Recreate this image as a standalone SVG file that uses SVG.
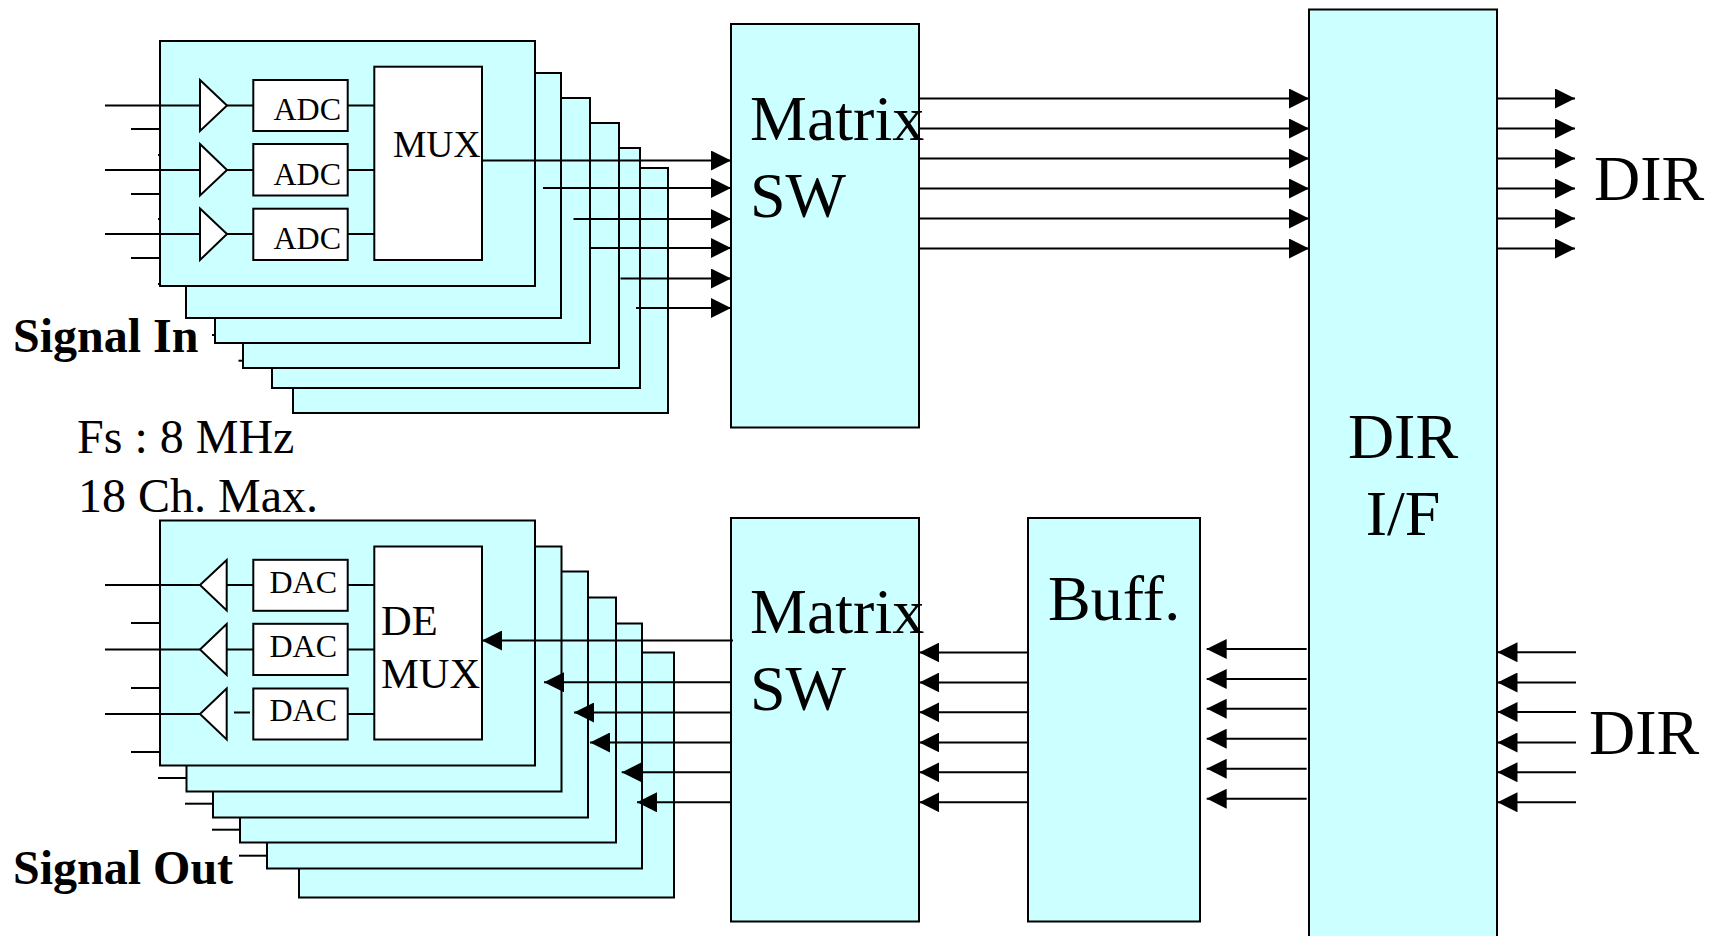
<svg xmlns="http://www.w3.org/2000/svg" width="1718" height="936" viewBox="0 0 1718 936">
<style>
.b{fill:#ccffff;stroke:#000;stroke-width:2}
.w{fill:#fff;stroke:#000;stroke-width:2}
.c line{stroke:#000;stroke-width:2;fill:none}
text{font-family:"Liberation Serif","Times New Roman",serif;fill:#000}
.s{font-size:32px}.m{font-size:37.500px}.d{font-size:42.500px}.l{font-size:64px}.t{font-size:48px}.h{font-size:48px;font-weight:bold}
</style>
<defs>
<marker id="a" markerUnits="userSpaceOnUse" markerWidth="20" markerHeight="20" refX="20" refY="10" orient="auto"><path d="M0 0L20 10L0 20Z" fill="#000"/></marker>
</defs>
<rect width="1718" height="936" fill="#fff"/>
<g id="in-cards">
<rect class="b" x="293" y="168" width="375" height="245"/>
<rect class="b" x="272" y="148" width="368" height="240"/>
<rect class="b" x="243" y="123" width="376" height="245"/>
<rect class="b" x="215" y="98" width="375" height="245"/>
<rect class="b" x="186" y="73" width="375" height="245"/>
<rect class="b" x="160" y="41" width="375" height="245"/>
</g>
<g id="out-cards">
<rect class="b" x="299" y="652.500" width="375" height="245"/>
<rect class="b" x="267" y="623.500" width="375" height="245"/>
<rect class="b" x="240" y="597.500" width="376" height="245"/>
<rect class="b" x="213" y="571.500" width="375" height="246"/>
<rect class="b" x="186.500" y="546.500" width="375" height="245"/>
<rect class="b" x="160" y="520.500" width="375" height="245"/>
</g>
<g id="amp-in-1"><path class="w" d="M200 80L227 105.500L200 131Z"/></g>
<g id="amp-in-2"><path class="w" d="M200 144L227 170L200 195.500Z"/></g>
<g id="amp-in-3"><path class="w" d="M200 208.500L227 234L200 260Z"/></g>
<g id="adc-1"><rect class="w" x="253.300" y="80" width="94.400" height="51"/><text class="s" x="273.500" y="120">ADC</text></g>
<g id="adc-2"><rect class="w" x="253.300" y="144" width="94.400" height="51.500"/><text class="s" x="273.500" y="185">ADC</text></g>
<g id="adc-3"><rect class="w" x="253.300" y="208.700" width="94.400" height="51.300"/><text class="s" x="273.500" y="249">ADC</text></g>
<g id="mux"><rect class="w" x="374.300" y="66.700" width="107.700" height="193.300"/><text class="m" x="393" y="156.700">MUX</text></g>
<g id="amp-out-1"><path class="w" d="M226.700 560L200 585L226.700 610.500Z"/></g>
<g id="amp-out-2"><path class="w" d="M226.700 624L200 649.500L226.700 675Z"/></g>
<g id="amp-out-3"><path class="w" d="M226.700 688.500L200 714L226.700 739.500Z"/></g>
<g id="dac-1"><rect class="w" x="253.300" y="559.800" width="94.400" height="51"/><text class="s" x="269.500" y="593">DAC</text></g>
<g id="dac-2"><rect class="w" x="253.300" y="623.800" width="94.400" height="51.200"/><text class="s" x="269.500" y="657.200">DAC</text></g>
<g id="dac-3"><rect class="w" x="253.300" y="688.500" width="94.400" height="51"/><text class="s" x="269.500" y="721.200">DAC</text></g>
<g id="demux"><rect class="w" x="374.300" y="546.500" width="107.700" height="193"/><text class="d" x="381" y="635">DE</text><text class="d" x="381" y="688">MUX</text></g>
<g id="matrix-top"><rect class="b" x="731" y="24" width="188" height="403.500"/><text class="l" x="750" y="140">Matrix</text><text class="l" x="750" y="217">SW</text></g>
<g id="matrix-bottom"><rect class="b" x="731" y="518" width="188" height="403.500"/><text class="l" x="750" y="633">Matrix</text><text class="l" x="750" y="710">SW</text></g>
<g id="buff"><rect class="b" x="1028" y="518" width="172" height="403.500"/><text class="l" x="1048" y="620">Buff.</text></g>
<g id="dir-if"><rect class="b" x="1309" y="9.500" width="188" height="960"/><text class="l" x="1403" y="458" text-anchor="middle">DIR</text><text class="l" x="1403" y="535" text-anchor="middle">I/F</text></g>
<g id="connectors" class="c">
<line x1="105" y1="105.500" x2="200" y2="105.500"/><line x1="105" y1="170" x2="200" y2="170"/><line x1="105" y1="234" x2="200" y2="234"/>
<line x1="131" y1="129" x2="160" y2="129"/><line x1="131" y1="194" x2="160" y2="194"/><line x1="131" y1="258" x2="160" y2="258"/>
<line x1="158" y1="155" x2="160" y2="155"/><line x1="158" y1="219" x2="160" y2="219"/><line x1="158" y1="284" x2="160" y2="284"/>
<line x1="212" y1="335" x2="215" y2="335"/><line x1="238.500" y1="360.700" x2="243" y2="360.700"/>
<line x1="227" y1="105.500" x2="253" y2="105.500"/><line x1="227" y1="170" x2="253" y2="170"/><line x1="227" y1="234" x2="253" y2="234"/>
<line x1="347.500" y1="105.500" x2="374" y2="105.500"/><line x1="347.500" y1="170" x2="374" y2="170"/><line x1="347.500" y1="234" x2="374" y2="234"/>
<line x1="482" y1="160.500" x2="731" y2="160.500" marker-end="url(#a)"/><line x1="543" y1="188" x2="731" y2="188" marker-end="url(#a)"/><line x1="573.500" y1="219" x2="731" y2="219" marker-end="url(#a)"/><line x1="589" y1="248" x2="731" y2="248" marker-end="url(#a)"/><line x1="620.500" y1="278.500" x2="731" y2="278.500" marker-end="url(#a)"/><line x1="636" y1="308" x2="731" y2="308" marker-end="url(#a)"/>
<line x1="919" y1="98.500" x2="1309" y2="98.500" marker-end="url(#a)"/><line x1="919" y1="128.500" x2="1309" y2="128.500" marker-end="url(#a)"/><line x1="919" y1="158.500" x2="1309" y2="158.500" marker-end="url(#a)"/><line x1="919" y1="188.500" x2="1309" y2="188.500" marker-end="url(#a)"/><line x1="919" y1="218.500" x2="1309" y2="218.500" marker-end="url(#a)"/><line x1="919" y1="248.500" x2="1309" y2="248.500" marker-end="url(#a)"/>
<line x1="1497" y1="98.500" x2="1575" y2="98.500" marker-end="url(#a)"/><line x1="1497" y1="128.500" x2="1575" y2="128.500" marker-end="url(#a)"/><line x1="1497" y1="158.500" x2="1575" y2="158.500" marker-end="url(#a)"/><line x1="1497" y1="188.500" x2="1575" y2="188.500" marker-end="url(#a)"/><line x1="1497" y1="218.500" x2="1575" y2="218.500" marker-end="url(#a)"/><line x1="1497" y1="248.500" x2="1575" y2="248.500" marker-end="url(#a)"/>
<line x1="733" y1="640.500" x2="482" y2="640.500" marker-end="url(#a)"/><line x1="731" y1="682.300" x2="544" y2="682.300" marker-end="url(#a)"/><line x1="731" y1="712.500" x2="574" y2="712.500" marker-end="url(#a)"/><line x1="731" y1="742.500" x2="590" y2="742.500" marker-end="url(#a)"/><line x1="731" y1="772.300" x2="621.700" y2="772.300" marker-end="url(#a)"/><line x1="731" y1="802.300" x2="637" y2="802.300" marker-end="url(#a)"/>
<line x1="1028" y1="652.500" x2="919.300" y2="652.500" marker-end="url(#a)"/><line x1="1028" y1="682.500" x2="919.300" y2="682.500" marker-end="url(#a)"/><line x1="1028" y1="712.300" x2="919.300" y2="712.300" marker-end="url(#a)"/><line x1="1028" y1="742.500" x2="919.300" y2="742.500" marker-end="url(#a)"/><line x1="1028" y1="772.300" x2="919.300" y2="772.300" marker-end="url(#a)"/><line x1="1028" y1="802.300" x2="919.300" y2="802.300" marker-end="url(#a)"/>
<line x1="1306.700" y1="649" x2="1206.700" y2="649" marker-end="url(#a)"/><line x1="1306.700" y1="679" x2="1206.700" y2="679" marker-end="url(#a)"/><line x1="1306.700" y1="708.700" x2="1206.700" y2="708.700" marker-end="url(#a)"/><line x1="1306.700" y1="738.700" x2="1206.700" y2="738.700" marker-end="url(#a)"/><line x1="1306.700" y1="768.700" x2="1206.700" y2="768.700" marker-end="url(#a)"/><line x1="1306.700" y1="798.700" x2="1206.700" y2="798.700" marker-end="url(#a)"/>
<line x1="1576" y1="652.300" x2="1497.500" y2="652.300" marker-end="url(#a)"/><line x1="1576" y1="682.500" x2="1497.500" y2="682.500" marker-end="url(#a)"/><line x1="1576" y1="712" x2="1497.500" y2="712" marker-end="url(#a)"/><line x1="1576" y1="742.500" x2="1497.500" y2="742.500" marker-end="url(#a)"/><line x1="1576" y1="772.300" x2="1497.500" y2="772.300" marker-end="url(#a)"/><line x1="1576" y1="802.300" x2="1497.500" y2="802.300" marker-end="url(#a)"/>
<line x1="105" y1="585" x2="200" y2="585"/><line x1="105" y1="649.500" x2="200" y2="649.500"/><line x1="105" y1="714" x2="200" y2="714"/>
<line x1="131" y1="623" x2="160" y2="623"/><line x1="131" y1="688" x2="160" y2="688"/><line x1="131" y1="752" x2="160" y2="752"/>
<line x1="158" y1="778" x2="186.500" y2="778"/><line x1="185" y1="803.700" x2="213" y2="803.700"/><line x1="212" y1="829.700" x2="240" y2="829.700"/><line x1="239" y1="855.700" x2="267" y2="855.700"/>
<line x1="226.700" y1="585" x2="253.300" y2="585"/><line x1="226.700" y1="649.500" x2="253.300" y2="649.500"/><line x1="234" y1="712.500" x2="250" y2="712.500"/>
<line x1="347.700" y1="585" x2="374.300" y2="585"/><line x1="347.700" y1="649.500" x2="374.300" y2="649.500"/><line x1="347.700" y1="714" x2="374.300" y2="714"/>
</g>
<g id="labels">
<text class="l" x="1594" y="200">DIR</text>
<text class="l" x="1589" y="754">DIR</text>
<text class="h" x="13" y="352">Signal In</text>
<text class="h" x="13" y="884">Signal Out</text>
<text class="t" x="77" y="453">Fs : 8 MHz</text>
<text class="t" x="78" y="511.700">18 Ch. Max.</text>
</g>
</svg>
